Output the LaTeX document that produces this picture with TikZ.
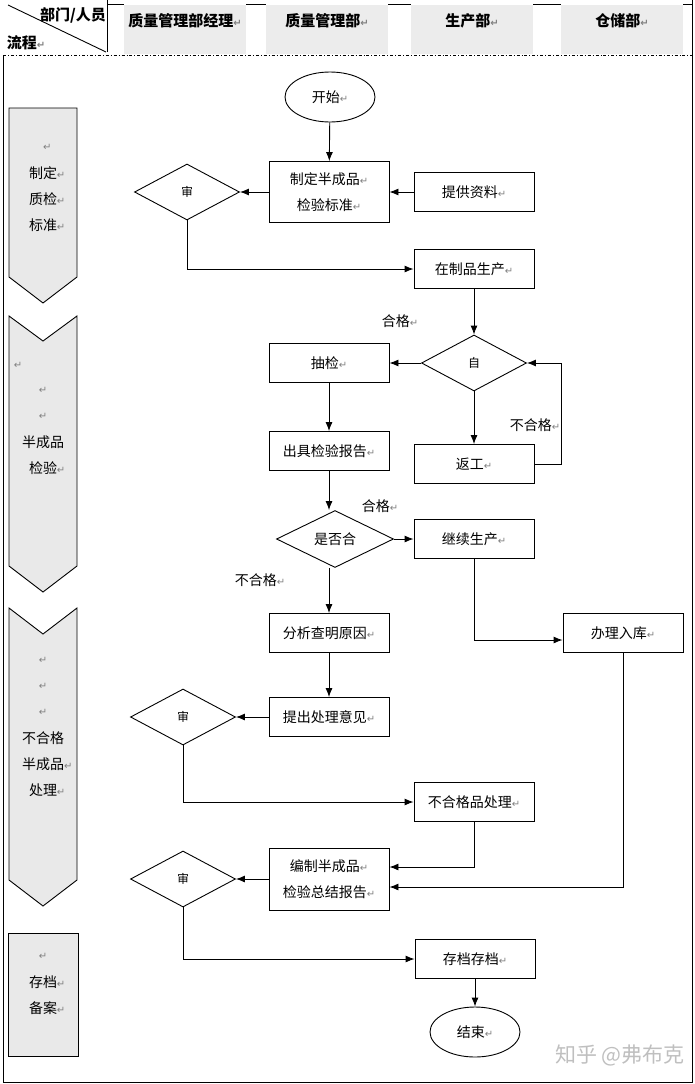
\documentclass[tikz,border=0pt]{standalone}
\usepackage{fontspec}
\usetikzlibrary{shapes.geometric,arrows.meta}
\setmainfont{Noto Sans CJK SC}
\newfontfamily\arrfont{DejaVu Sans}
\newcommand{\enterm}{{\arrfont\color{gray}\fontsize{10}{10}\selectfont ↵}}

\begin{document}
\begin{tikzpicture}[x=1pt,y=-1pt,line width=0.9pt,>={Latex[length=9pt,width=7pt]},
  font=\fontsize{14}{26}\selectfont,
  box/.style={draw, minimum width=120pt, minimum height=39pt, inner sep=0pt, align=center},
  chk/.style={draw, diamond, minimum width=105pt, minimum height=56pt, inner sep=0pt, font=\fontsize{12}{12}\selectfont},
  term/.style={draw, ellipse, minimum width=90pt, minimum height=50pt, inner sep=0pt},
  phase/.style={draw, fill=gray!17},
  headtxt/.style={font=\fontsize{15}{15}\selectfont\bfseries}]
  \useasboundingbox (0,0) rectangle (695,1084);

  % Header row
  \foreach \x/\t/\n in {185/质量管理部经理/hmgr, 327/质量管理部/hqm, 472/生产部/hprod, 622/仓储部/hstore} {
    \fill[gray!15] (\x-61,5) rectangle (\x+61,54);
    \node[headtxt] (\n) at (\x,21) {\t\enterm};
  }
  \draw (107,4) -- (124,4) (246,4) -- (266,4) (388,4) -- (411,4) (533,4) -- (561,4) (683,4) -- (692,4);
  \draw (107,0) -- (107,52);
  \draw (8,5) -- (106,52);
  \node[headtxt] (hdept) at (73,15) {部门/人员};
  \node[headtxt, anchor=west] (hflow) at (3,43) {流程\enterm};

  % Frame
  \draw[dash dot] (3,55) -- (692,55);
  \draw (692,0) -- (692,1082) -- (3,1082) -- (3,55);

  % Phases on the left
  \filldraw[phase] (9,108) -- (77,108) -- (77,277) -- (43,303) -- (9,277) -- cycle;
  \filldraw[phase] (9,316) -- (43,341) -- (77,316) -- (77,566) -- (43,592) -- (9,566) -- cycle;
  \filldraw[phase] (9,608) -- (43,634) -- (77,608) -- (77,880) -- (43,906) -- (9,880) -- cycle;
  \filldraw[phase] (8,933) rectangle (78,1056);

  \foreach \t [count=\i] in {{}, 制定, 质检, 标准}
    \node (pa\i) at (43,{121+26*\i}) {\t\rlap{\enterm}};
  \node (pb1) at (18,365) {\enterm};
  \foreach \t [count=\i] in {{\enterm}, {\enterm}, 半成品, 检验\rlap{\enterm}}
    \node (pb\i) at (43,{364+26*\i}) {\t};
  \foreach \t [count=\i] in {{\enterm}, {\enterm}, {\enterm}, 不合格, 半成品\rlap{\enterm}, 处理\rlap{\enterm}}
    \node (pc\i) at (43,{634+26*\i}) {\t};
  \foreach \t [count=\i] in {{\enterm}, 存档\rlap{\enterm}, 备案\rlap{\enterm}}
    \node (pd\i) at (43,{930+26*\i}) {\t};

  % Flow nodes
  \node[term] (start) at (330,97) {开始\enterm};
  \node[box, minimum height=61pt] (std) at (329,192) {制定半成品\enterm\\检验标准\enterm};
  \node[chk] (rev1) at (187,192) {审};
  \node[box] (info) at (474,192) {提供资料\enterm};
  \node[box] (prod) at (474,269) {在制品生产\enterm};
  \node[chk] (self) at (474,363) {自};
  \node[box] (spot) at (329,363) {抽检\enterm};
  \node[box] (rework) at (474,464) {返工\enterm};
  \node[box] (report) at (329,451) {出具检验报告\enterm};
  \node[chk, minimum width=117pt, minimum height=57pt, font=\fontsize{14}{14}\selectfont] (ok) at (335,539) {是否合};
  \node[box] (cont) at (474,539) {继续生产\enterm};
  \node[box] (cause) at (329,633) {分析查明原因\enterm};
  \node[box] (store) at (623,633) {办理入库\enterm};
  \node[box] (idea) at (329,717) {提出处理意见\enterm};
  \node[chk] (rev2) at (183,717) {审};
  \node[box] (ng) at (474,802) {不合格品处理\enterm};
  \node[box, minimum height=62pt] (sum) at (329,879) {编制半成品\enterm\\检验总结报告\enterm};
  \node[chk] (rev3) at (183,879) {审};
  \node[box] (arch) at (475,959) {存档存档\enterm};
  \node[term] (end) at (475,1032) {结束\enterm};

  % Labels
  \node (lok1) at (400,321) {合格\enterm};
  \node (lng1) at (535,425) {不合格\enterm};
  \node (lok2) at (380,506) {合格\enterm};
  \node (lng2) at (260,580) {不合格\enterm};

  % Connectors
  \draw[->] (start) -- (std);
  \draw[->] (std) -- (rev1);
  \draw[->] (info) -- (std);
  \draw[->] (rev1.south) |- (prod.west);
  \draw[->] (prod) -- (self);
  \draw[->] (self) -- (spot);
  \draw[->] (self) -- (rework);
  \draw[->] (rework.east) -- ++(27,0) |- (self.east);
  \draw[->] (spot) -- (report);
  \draw[->] (report.south) -- (report.south |- ok.north);
  \draw[->] (ok) -- (cont);
  \draw[->] (cause.north |- ok.south) -- (cause.north);
  \draw[->] (cont.south) |- ([yshift=-7pt]store.west);
  \draw[->] (cause) -- (idea);
  \draw[->] (idea) -- (rev2);
  \draw[->] (rev2.south) |- (ng.west);
  \draw[->] (ng.south) |- ([yshift=12pt]sum.east);
  \draw[->] (store.south) |- ([yshift=-8pt]sum.east);
  \draw[->] (sum) -- (rev3);
  \draw[->] (rev3.south) |- (arch.west);
  \draw[->] (arch) -- (end);

  % Watermark
  \node[text=gray!50, font=\fontsize{21}{21}\selectfont] (wm) at (620,1055) {知乎 @弗布克};
\end{tikzpicture}
\end{document}
